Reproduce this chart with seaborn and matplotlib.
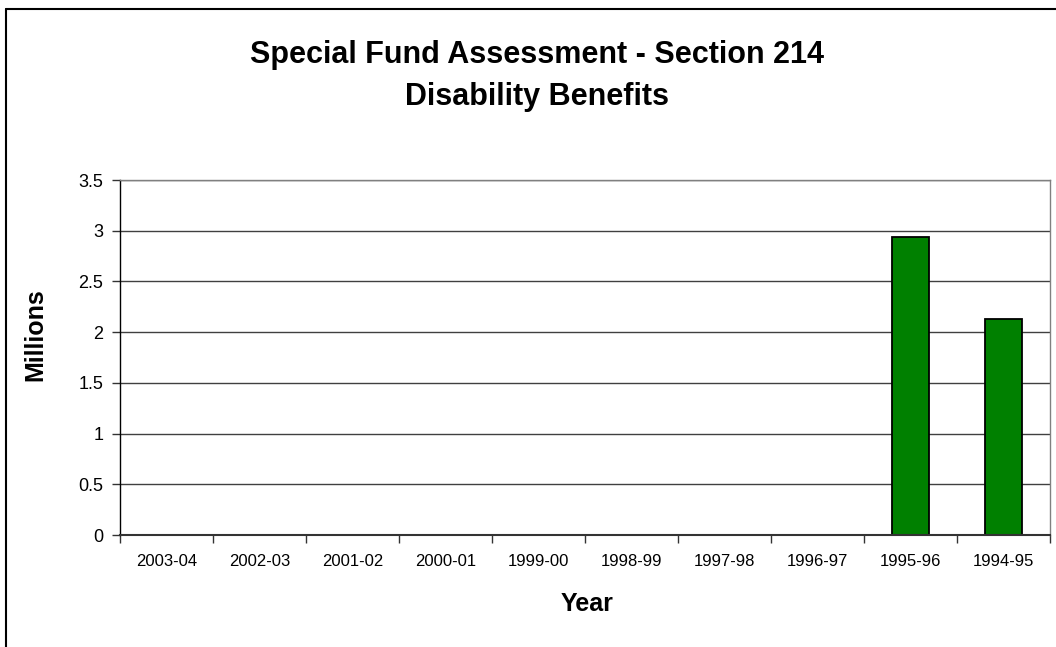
import numpy as np
import pandas as pd
import matplotlib
matplotlib.use('Agg')
import matplotlib.pyplot as plt
from matplotlib.lines import Line2D
import seaborn as sns

# data (millions)
years = ["2003-04", "2002-03", "2001-02", "2000-01", "1999-00",
         "1998-99", "1997-98", "1996-97", "1995-96", "1994-95"]
millions = [np.nan, np.nan, np.nan, np.nan, np.nan,
            np.nan, np.nan, np.nan, 2.94, 2.13]

df = pd.DataFrame({"Year": years, "Millions": millions})

sns.set_style("white")
plt.rcParams['font.family'] = ['Liberation Sans', 'DejaVu Sans']
plt.rcParams['text.color'] = 'black'
plt.rcParams['axes.labelcolor'] = 'black'
plt.rcParams['xtick.labelcolor'] = 'black'
plt.rcParams['ytick.labelcolor'] = 'black'

fig = plt.figure(figsize=(10.56, 6.47), dpi=100)
ax = fig.add_axes([120 / 1056, 1 - 535 / 647, 930 / 1056, 355 / 647])

sns.barplot(data=df, x="Year", y="Millions", order=years, ax=ax,
            color="#008000", saturation=1, width=0.4,
            edgecolor="black", linewidth=1.3, errorbar=None)

ax.set_ylim(0, 3.5)
ax.set_xlim(-0.5, len(years) - 0.5)
ax.set_yticks(np.arange(0, 3.51, 0.5))
ax.set_yticklabels(["0", "0.5", "1", "1.5", "2", "2.5", "3", "3.5"])
ax.yaxis.grid(True, color="#404040", linewidth=1)
ax.set_axisbelow(True)

# ticks between categories, excel style
ax.set_xticks(np.arange(len(years)))
ax.set_xticklabels(years)
ax.set_xticks(np.arange(-0.5, len(years), 1), minor=True)
ax.tick_params(axis='x', which='major', length=0, pad=14, labelsize=12,
               labelcolor='black')
ax.tick_params(axis='x', which='minor', length=6, width=1, color="#333333",
               direction='out', bottom=True)
ax.tick_params(axis='y', length=6, width=1, color="#333333",
               direction='out', left=True, pad=6, labelsize=13,
               labelcolor='black')

for side in ["top", "right"]:
    ax.spines[side].set_color("#808080")
    ax.spines[side].set_linewidth(1)
ax.spines["left"].set_color("black")
ax.spines["left"].set_linewidth(1)
ax.spines["bottom"].set_color("#333333")
ax.spines["bottom"].set_linewidth(1.5)

ax.set_xlabel("Year", fontsize=18, fontweight='bold', color='black')
ax.xaxis.set_label_coords((587 - 120) / 930, (535 - 604) / 355)
ax.xaxis.label.set_verticalalignment('center')
ax.set_ylabel("Millions", fontsize=18, fontweight='bold', color='black')
ax.yaxis.set_label_coords((35 - 120) / 930, (535 - 335) / 355)
ax.yaxis.label.set_verticalalignment('center')

fig.text(537 / 1056, 1 - 63 / 647, "Special Fund Assessment - Section 214",
         ha='center', va='baseline', fontsize=22, fontweight='bold',
         color='black')
fig.text(537 / 1056, 1 - 105 / 647, "Disability Benefits",
         ha='center', va='baseline', fontsize=22, fontweight='bold',
         color='black')

# outer chart border (right/bottom cut off in the original)
fig.add_artist(Line2D([6 / 1056, 1.0], [1 - 9 / 647, 1 - 9 / 647],
                      transform=fig.transFigure, color="black", linewidth=1.5))
fig.add_artist(Line2D([6 / 1056, 6 / 1056], [0.0, 1 - 9 / 647],
                      transform=fig.transFigure, color="black", linewidth=1.5))

fig.savefig("out.png", dpi=100)
